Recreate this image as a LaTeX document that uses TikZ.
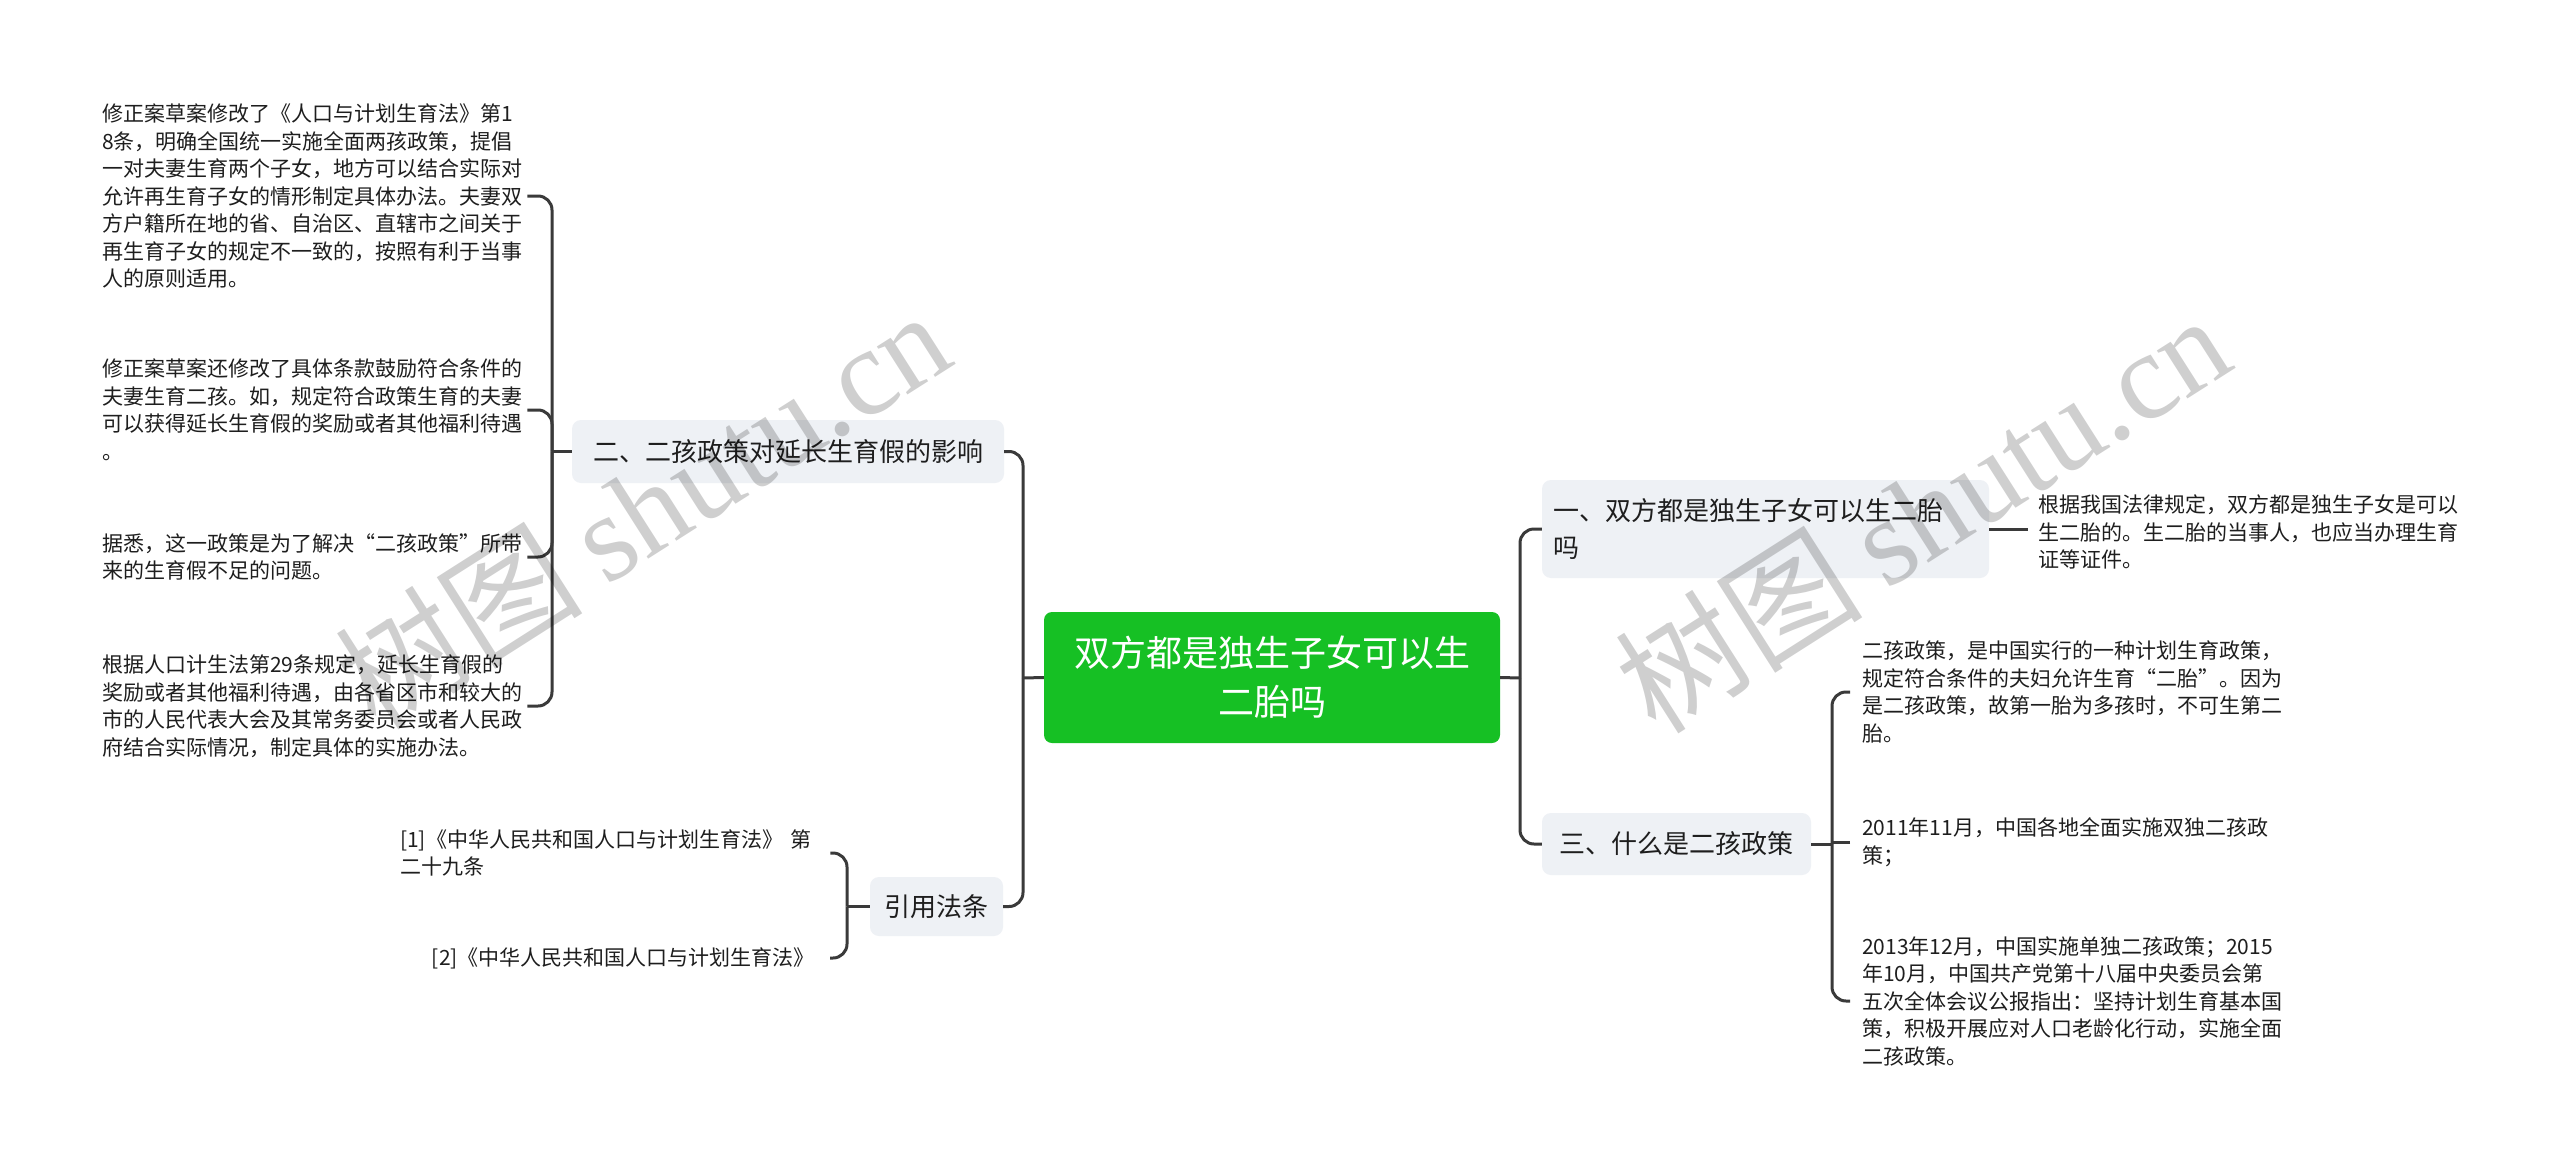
\documentclass[tikz,border=0pt]{standalone}
\usepackage{fontspec}
\setmainfont{Noto Sans CJK SC}
\newfontfamily\wmserif{Liberation Serif}
\definecolor{rootgreen}{RGB}{22,192,36}
\definecolor{branchfill}{RGB}{238,241,245}
\definecolor{linecol}{RGB}{58,58,58}
\definecolor{txt}{RGB}{30,30,30}
\begin{document}
\begin{tikzpicture}[x=1pt,y=-1pt,
  conn/.style={draw=linecol, line width=3pt, rounded corners=14pt},
  rootbox/.style={fill=rootgreen, rounded corners=8pt, text=white, minimum width=456pt, minimum height=131pt, align=center, font=\fontsize{36}{49}\selectfont, inner sep=0pt},
  branchbox/.style={fill=branchfill, rounded corners=9pt, text=txt, font=\fontsize{26}{37}\selectfont, inner sep=0pt},
  leaf/.style={text=txt, font=\fontsize{21}{27.5}\selectfont, inner sep=0pt, align=left},
  wm/.style={text=black, opacity=0.19, rotate=32.5, inner sep=0pt}
]
\fill[white] (0,0) rectangle (2560,1167);
\useasboundingbox (0,0) rectangle (2560,1167);

% root
\node[rootbox] (root) at (1272,677.5) {双方都是独生子女可以生\\二胎吗};

% left branches
\node[branchbox, minimum width=432pt, minimum height=63pt] (b2) at (788,451.5) {二、二孩政策对延长生育假的影响};
\node[branchbox, minimum width=133pt, minimum height=59pt] (cite) at (936.5,906.5) {引用法条};

% right branches
\node[branchbox, text width=425pt, inner xsep=11pt, minimum height=98pt, align=left] (b1) at (1765.5,529) {一、双方都是独生子女可以生二胎\\吗};
\node[branchbox, minimum width=269pt, minimum height=62pt] (b3) at (1676.5,844) {三、什么是二孩政策};

% junctions
\coordinate (tl) at (1023,678);
\coordinate (tr) at (1520,678);
\coordinate (t2) at (552,451.5);
\coordinate (tc) at (847,906.5);
\coordinate (t3) at (1832,844);

% leaves of b2
\node[leaf, text width=425pt, anchor=west] (c1) at (102,196) {修正案草案修改了《人口与计划生育法》第1\\8条，明确全国统一实施全面两孩政策，提倡\\一对夫妻生育两个子女，地方可以结合实际对\\允许再生育子女的情形制定具体办法。夫妻双\\方户籍所在地的省、自治区、直辖市之间关于\\再生育子女的规定不一致的，按照有利于当事\\人的原则适用。};
\node[leaf, text width=425pt, anchor=west] (c2) at (102,410) {修正案草案还修改了具体条款鼓励符合条件的\\夫妻生育二孩。如，规定符合政策生育的夫妻\\可以获得延长生育假的奖励或者其他福利待遇\\。};
\node[leaf, text width=425pt, anchor=west] (c3) at (102,557) {据悉，这一政策是为了解决“二孩政策”所带\\来的生育假不足的问题。};
\node[leaf, text width=425pt, anchor=west] (c4) at (102,706) {根据人口计生法第29条规定，延长生育假的\\奖励或者其他福利待遇，由各省区市和较大的\\市的人民代表大会及其常务委员会或者人民政\\府结合实际情况，制定具体的实施办法。};

% leaves of cite
\node[leaf, text width=415pt, anchor=west] (r1) at (400,853) {[1]《中华人民共和国人口与计划生育法》 第\\二十九条};
\node[leaf, anchor=east] (r2) at (815,958) {[2]《中华人民共和国人口与计划生育法》};

% leaf of b1
\node[leaf, anchor=west] (d1) at (2038,532) {根据我国法律规定，双方都是独生子女是可以\\生二胎的。生二胎的当事人，也应当办理生育\\证等证件。};

% leaves of b3
\node[leaf, anchor=west] (e1) at (1862,692) {二孩政策，是中国实行的一种计划生育政策，\\规定符合条件的夫妇允许生育“二胎”。因为\\是二孩政策，故第一胎为多孩时，不可生第二\\胎。};
\node[leaf, anchor=west] (e2) at (1862,842) {2011年11月，中国各地全面实施双独二孩政\\策；};
\node[leaf, anchor=west] (e3) at (1862,1001) {2013年12月，中国实施单独二孩政策；2015\\年10月，中国共产党第十八届中央委员会第\\五次全体会议公报指出：坚持计划生育基本国\\策，积极开展应对人口老龄化行动，实施全面\\二孩政策。};

% connectors root level
\draw[conn] (b2.east) -| (tl);
\draw[conn] (cite.east) -| (tl);
\draw[conn] (tl) -- (root.west);
\draw[conn] (root.east) -- (tr);
\draw[conn] (b1.west) -| (tr);
\draw[conn] (b3.west) -| (tr);

% b2 children
\draw[conn] (c1.east) -| (t2);
\draw[conn] (c2.east) -| (t2);
\draw[conn] (c3.east) -| (t2);
\draw[conn] (c4.east) -| (t2);
\draw[conn] (t2) -- (b2.west);

% cite children
\draw[conn, shorten <=15pt] (r1.east) -| (tc);
\draw[conn, shorten <=15pt] (r2.east) -| (tc);
\draw[conn] (tc) -- (cite.west);

% b1 child
\draw[conn, shorten >=10pt] (b1.east) -- (b1.east -| d1.west);

% b3 children
\draw[conn] (b3.east) -- (t3);
\draw[conn, shorten <=12pt] (e1.west) -| (t3);
\draw[conn, shorten <=12pt] (e2.west) -- (e2.west -| t3);
\draw[conn, shorten <=12pt] (e3.west) -| (t3);

% watermarks
\node[wm] (wm1) at (642,508) {\fontsize{124}{124}\selectfont 树图\hspace{24pt}{\wmserif shutu.cn}};
\node[wm] (wm2) at (1922,512) {\fontsize{124}{124}\selectfont 树图\hspace{24pt}{\wmserif shutu.cn}};
\end{tikzpicture}
\end{document}
